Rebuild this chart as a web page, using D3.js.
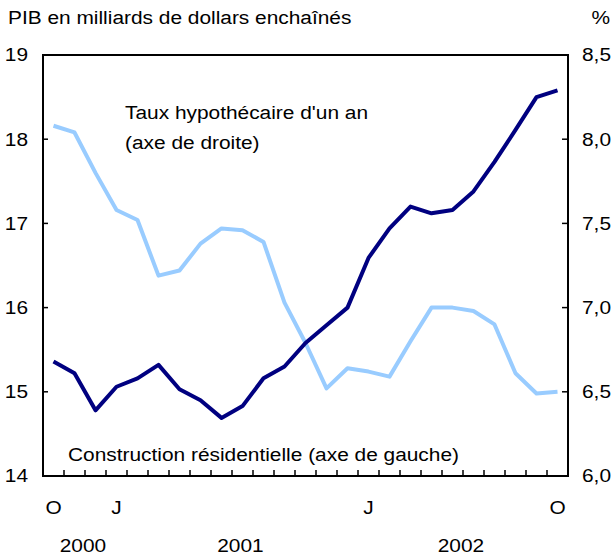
<!DOCTYPE html>
<html>
<head>
<meta charset="utf-8">
<script src="https://cdn.jsdelivr.net/npm/d3@7"></script>
<style>
  body { margin: 0; background: #fff; }
  svg text { font-family: "Liberation Sans", Arial, sans-serif; fill: #000; font-size: 18px; }
</style>
</head>
<body>
<svg id="chart" width="616" height="557"></svg>
<script>
// Monthly data, Oct 2000 -> Oct 2002
var months = ["O","N","D","J","F","M","A","M","J","J","A","S","O","N","D",
              "J","F","M","A","M","J","J","A","S","O"];
var construction = [15.36, 15.22, 14.78, 15.06, 15.16, 15.32, 15.03, 14.90, 14.69, 14.83,
                    15.16, 15.30, 15.58, 15.79, 16.00, 16.59, 16.94, 17.20, 17.12, 17.16,
                    17.38, 17.73, 18.11, 18.50, 18.58];
var tauxHypo = [8.08, 8.04, 7.80, 7.58, 7.52, 7.19, 7.22, 7.38, 7.47, 7.46,
                7.39, 7.03, 6.79, 6.52, 6.64, 6.62, 6.59, 6.80, 7.00, 7.00,
                6.98, 6.90, 6.61, 6.49, 6.50];
var monthLabels = [{i: 0, t: "O"}, {i: 3, t: "J"}, {i: 15, t: "J"}, {i: 24, t: "O"}];
var yearLabels = [{i: 1.4, t: "2000"}, {i: 8.9, t: "2001"}, {i: 19.4, t: "2002"}];
var leftTicks = [14, 15, 16, 17, 18, 19];
var rightTicks = [6.0, 6.5, 7.0, 7.5, 8.0, 8.5];

var svg = d3.select("#chart"),
  margin = {left: 43, right: 48, top: 55, bottom: 81},
  width = 616 - margin.left - margin.right,
  height = 557 - margin.top - margin.bottom,
  stretch = 1.16; // the reference type is a bit wider than Arial

var g = svg.append("g").attr("transform", "translate(" + margin.left + "," + margin.top + ")");

// text helper: horizontally stretched label
function label(parent, x, y, txt, anchor, dy) {
  return parent.append("text")
    .attr("transform", "translate(" + x + "," + y + ") scale(" + stretch + ",1)")
    .attr("text-anchor", anchor || "start")
    .attr("dy", dy || 0)
    .text(txt);
}

var x = d3.scaleBand().domain(d3.range(months.length)).range([0, width]);
var xc = i => x.step() * (i + 0.5);
var yL = d3.scaleLinear().domain([14, 19]).range([height, 0]);
var yR = d3.scaleLinear().domain([6, 8.5]).range([height, 0]);
var fmt = d3.format(".1f");

// lines
var lineL = d3.line().x((d, i) => xc(i)).y(d => yL(d));
var lineR = d3.line().x((d, i) => xc(i)).y(d => yR(d));

g.append("path").datum(tauxHypo)
  .attr("d", lineR).attr("fill", "none")
  .attr("stroke", "#99ccff").attr("stroke-width", 4).attr("stroke-linejoin", "round");
g.append("path").datum(construction)
  .attr("d", lineL).attr("fill", "none")
  .attr("stroke", "#000080").attr("stroke-width", 4).attr("stroke-linejoin", "round");

// frame
g.append("rect").attr("width", width).attr("height", height)
  .attr("fill", "none").attr("stroke", "#000").attr("stroke-width", 2);

// inner ticks
g.selectAll(".xt").data(d3.range(1, months.length)).enter().append("line")
  .attr("x1", d => x.step() * d).attr("x2", d => x.step() * d)
  .attr("y1", height).attr("y2", height - 6)
  .attr("stroke", "#000").attr("stroke-width", 1.5);
g.selectAll(".lt").data(leftTicks.slice(1, -1)).enter().append("line")
  .attr("x1", 0).attr("x2", 5).attr("y1", d => yL(d)).attr("y2", d => yL(d))
  .attr("stroke", "#000").attr("stroke-width", 1.5);
g.selectAll(".rt").data(rightTicks.slice(1, -1)).enter().append("line")
  .attr("x1", width).attr("x2", width - 6).attr("y1", d => yR(d)).attr("y2", d => yR(d))
  .attr("stroke", "#000").attr("stroke-width", 1.5);

// tick labels
leftTicks.forEach(d => label(g, -15, yL(d), d, "end", "0.35em"));
rightTicks.forEach(d => label(g, width + 14, yR(d), fmt(d).replace(".", ","), "start", "0.35em"));
monthLabels.forEach(d => label(g, xc(d.i), height + 38, d.t, "middle"));
yearLabels.forEach(d => label(g, xc(d.i), height + 76, d.t, "middle"));

// titles and annotations
label(svg, 8, 24, "PIB en milliards de dollars enchaînés");
label(svg, 610, 24, "%", "end");
label(svg, 125, 119, "Taux hypothécaire d'un an");
label(svg, 125, 149, "(axe de droite)");
label(svg, 68, 461, "Construction résidentielle (axe de gauche)");
</script>
</body>
</html>
